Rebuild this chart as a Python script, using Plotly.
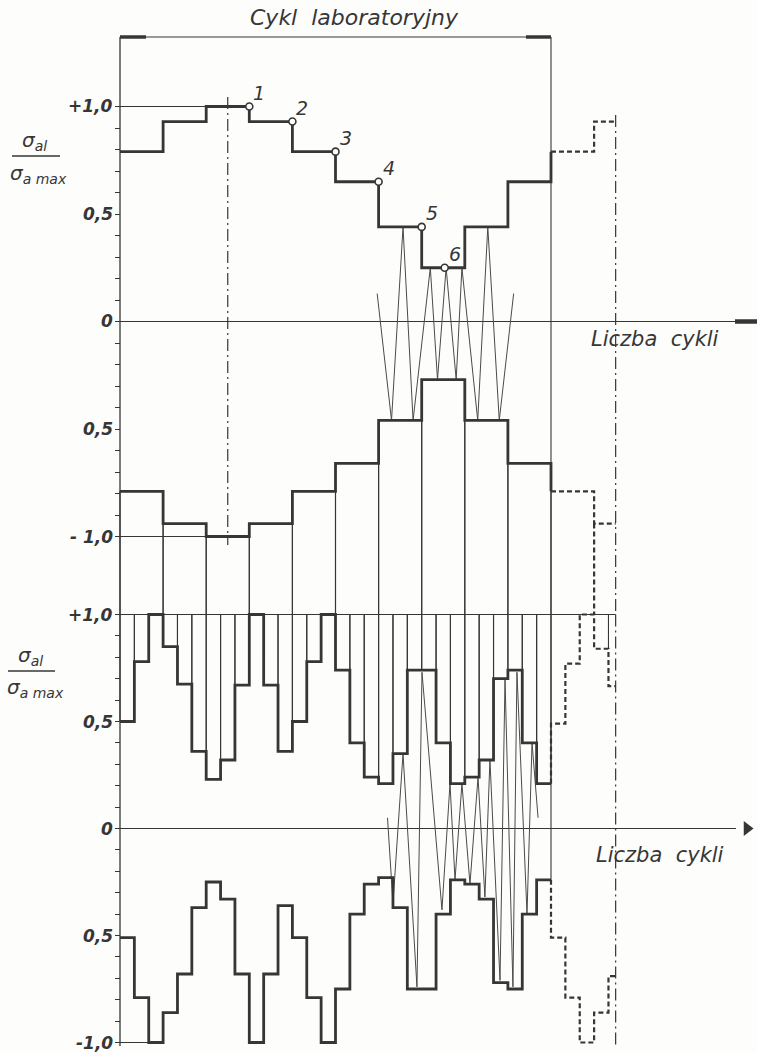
import plotly.graph_objects as go

# ---------------- data ----------------
# block program (upper diagram): amplitude ratio per block of the laboratory cycle
top_upper = [0.79, 0.93, 1.00, 0.93, 0.79, 0.65, 0.44, 0.25, 0.44, 0.65]
top_lower = [-0.79, -0.94, -1.00, -0.94, -0.79, -0.66, -0.46, -0.27, -0.46, -0.66]
top_upper_next = [0.79, 0.93]          # start of the following cycle (dashed)
top_lower_next = [-0.79, -0.94]

# numbered points on the upper envelope
point_labels = ["1", "2", "3", "4", "5", "6"]
point_x = [9.0, 12.0, 15.0, 18.0, 21.0, 22.6]
point_y = [1.00, 0.93, 0.79, 0.65, 0.44, 0.25]

# load reversals drawn inside blocks 7-9
zig_top_x = [17.9, 18.9, 19.7, 20.4, 21.6, 22.1, 22.7, 23.4, 23.8, 24.9, 25.6, 26.4, 27.4]
zig_top_y = [0.13, -0.46, 0.44, -0.46, 0.25, -0.27, 0.25, -0.27, 0.25, -0.46, 0.44, -0.46, 0.13]

# random block sequence (lower diagram): 30 sub-blocks per cycle
bot_upper = [0.50, 0.78, 1.00, 0.85, 0.675, 0.36, 0.23, 0.32, 0.67, 1.00,
             0.67, 0.36, 0.50, 0.78, 1.00, 0.74, 0.40, 0.24, 0.21, 0.35,
             0.74, 0.74, 0.40, 0.21, 0.24, 0.32, 0.70, 0.74, 0.40, 0.21]
bot_lower = [-0.51, -0.79, -1.00, -0.86, -0.68, -0.37, -0.25, -0.33, -0.68, -1.00,
             -0.68, -0.36, -0.51, -0.79, -1.00, -0.75, -0.40, -0.26, -0.23, -0.37,
             -0.75, -0.75, -0.40, -0.24, -0.26, -0.33, -0.72, -0.75, -0.40, -0.24]
bot_upper_next = [0.49, 0.77, 1.00, 0.84, 0.665]
bot_lower_next = [-0.51, -0.79, -1.00, -0.86, -0.69]

# load reversals drawn inside sub-blocks 19-30
zig_bot_x = [18.62, 19.0, 19.7, 20.67, 21.02, 22.41, 22.97, 23.32, 23.8, 24.36,
             24.92, 25.4, 25.75, 26.45, 26.8, 27.35, 27.63, 28.33, 28.68, 29.1]
zig_bot_y = [0.05, -0.35, 0.35, -0.74, 0.73, -0.38, 0.21, -0.24, 0.21, -0.26,
             0.24, -0.32, 0.32, -0.71, 0.70, -0.74, 0.73, -0.40, 0.40, 0.05]

top_tick_text = {1.0: "+1,0", 0.5: "0,5", 0.0: "0", -0.5: "0,5", -1.0: "- 1,0"}
bot_tick_text = {1.0: "+1,0", 0.5: "0,5", 0.0: "0", -0.5: "0,5", -1.0: "-1,0"}

# ---------------- geometry ----------------
W, H = 757, 1052
X0_PX = 120.0
UNIT_PX = 431.0 / 30.0
TOP_ZERO_PX, TOP_SCALE = 321.5, 215.0
BOT_ZERO_PX, BOT_SCALE = 828.5, 214.0

INK = "#363636"
THIN = 1.1
THICK = 2.8
FONT = "DejaVu Sans"


def px_to_top(p):
    return (TOP_ZERO_PX - p) / TOP_SCALE


def px_to_bot(p):
    return (BOT_ZERO_PX - p) / BOT_SCALE


def bot_to_top(v):
    return px_to_top(BOT_ZERO_PX - v * BOT_SCALE)


def px_to_x(p):
    return (p - X0_PX) / UNIT_PX


x_range = [px_to_x(0), px_to_x(W)]
y_range = [px_to_top(H), px_to_top(0)]
y2_range = [px_to_bot(H), px_to_bot(0)]

n_blocks = len(top_upper)
cycle_end = 3.0 * n_blocks
next_end = 34.5
base_top = bot_to_top(1.0)         # lower hanging edge of the upper-diagram blocks
bracket_v = px_to_top(37)

fig = go.Figure()


def seg(x, y, width=THIN, dash="solid", axis="y", shape="linear", color=INK):
    fig.add_trace(go.Scatter(x=x, y=y, mode="lines", yaxis=axis, hoverinfo="skip",
                             showlegend=False,
                             line=dict(color=color, width=width, dash=dash, shape=shape)))


# ---------- upper diagram ----------
edges_top = [3.0 * i for i in range(n_blocks + 1)]
centers_top = [3.0 * i + 1.5 for i in range(n_blocks)]
fig.add_trace(go.Bar(x=centers_top, y=[v - base_top for v in top_lower], base=base_top,
                     width=3.0, yaxis="y", marker=dict(color="rgba(0,0,0,0)",
                     line=dict(color=INK, width=THIN)), hoverinfo="skip", showlegend=False))

# reference lines at +/-1
seg([0, 9], [1.0, 1.0])
seg([0, 9], [-1.0, -1.0])
# zero line with arrow end
seg([0, px_to_x(736)], [0, 0], width=1.0)
seg([px_to_x(735), px_to_x(757)], [0, 0], width=4.5)
# laboratory cycle bracket
seg([0, cycle_end], [bracket_v, bracket_v])
seg([0, px_to_x(146)], [bracket_v, bracket_v], width=3.5)
seg([px_to_x(526), cycle_end], [bracket_v, bracket_v], width=3.5)
seg([cycle_end, cycle_end], [bracket_v, base_top])
# symmetry axes
seg([7.5, 7.5], [px_to_top(97), px_to_top(545)], width=1.2, dash="12px,4px,2px,4px")
seg([next_end, next_end], [px_to_top(115), base_top], width=1.2, dash="12px,4px,2px,4px")

# reversals
seg(zig_top_x, zig_top_y, width=1.0, color="#4a4a4a")

# envelopes
seg(edges_top, top_upper + [top_upper_next[0]], width=THICK, shape="hv")
seg(edges_top, top_lower + [top_lower_next[0]], width=THICK, shape="hv")
seg([cycle_end, 33.0, next_end], [top_upper_next[0], top_upper_next[1], top_upper_next[1]],
    width=2.2, dash="5px,3px", shape="hv")
seg([cycle_end, 33.0, next_end], [top_lower_next[0], top_lower_next[1], top_lower_next[1]],
    width=2.2, dash="5px,3px", shape="hv")
seg([33.0, 33.0], [top_lower_next[1], base_top], width=2.2, dash="5px,3px")

fig.add_trace(go.Scatter(x=point_x, y=point_y, mode="markers", yaxis="y",
                         hoverinfo="skip", showlegend=False,
                         marker=dict(symbol="circle", size=7, color="white",
                                     line=dict(color=INK, width=1.6))))

# ---------- lower diagram ----------
n_sub = len(bot_upper)
edges_bot = [float(i) for i in range(n_sub + 1)]
centers_bot = [i + 0.5 for i in range(n_sub)]
fig.add_trace(go.Bar(x=centers_bot, y=[v - 1.0 for v in bot_upper], base=1.0, width=1.0,
                     yaxis="y2", marker=dict(color="rgba(0,0,0,0)",
                     line=dict(color=INK, width=THIN)), hoverinfo="skip", showlegend=False))

seg([cycle_end, next_end], [1.0, 1.0], axis="y2")
seg([0, 3], [-1.0, -1.0], axis="y2")
seg([0, px_to_x(736)], [0, 0], width=1.0, axis="y2")
fig.add_trace(go.Scatter(x=[px_to_x(747)], y=[0], mode="markers", yaxis="y2",
                         hoverinfo="skip", showlegend=False,
                         marker=dict(symbol="triangle-right", size=13, color=INK)))
seg([cycle_end, cycle_end], [1.0, bot_lower[-1]], axis="y2")
seg([34.0, 34.0], [1.0, bot_upper_next[3]], axis="y2")
seg([next_end, next_end], [1.0, px_to_bot(1045)], width=1.2, dash="12px,4px,2px,4px",
    axis="y2")

seg(zig_bot_x, zig_bot_y, width=1.0, color="#4a4a4a", axis="y2")

seg(edges_bot, bot_upper + [bot_upper[-1]], width=THICK, shape="hv", axis="y2")
seg(edges_bot, bot_lower + [bot_lower[-1]], width=THICK, shape="hv", axis="y2")
nx = [cycle_end, cycle_end, 31.0, 32.0, 33.0, 34.0, next_end]
seg(nx, [bot_upper[-1]] + bot_upper_next + [bot_upper_next[-1]], width=2.2,
    dash="5px,3px", shape="hv", axis="y2")
seg(nx, [bot_lower[-1]] + bot_lower_next + [bot_lower_next[-1]], width=2.2,
    dash="5px,3px", shape="hv", axis="y2")

# ordinate lines
seg([0, 0], [bracket_v, base_top], width=1.3)
seg([0, 0], [1.0, px_to_bot(1046)], width=1.3, axis="y2")

# ---------- axes ----------
ticks = [round(-1.0 + 0.1 * i, 1) for i in range(21)]


def yaxis_cfg(rng):
    return dict(range=rng, tickvals=ticks, showticklabels=False,
                ticks="outside", ticklen=5, tickwidth=1, tickcolor=INK,
                showgrid=False, zeroline=False, showline=False,
                anchor="free", position=X0_PX / W, fixedrange=True)


y2cfg = yaxis_cfg(y2_range)
y2cfg["overlaying"] = "y"

annotations = []


def text(t, xp, yp, size=18, xanchor="center", weight="normal"):
    annotations.append(dict(text=t, x=xp / W, y=1 - yp / H, xref="paper", yref="paper",
                            showarrow=False, xanchor=xanchor, yanchor="middle",
                            font=dict(family=FONT, size=size, color=INK, style="italic",
                                      weight=weight)))


# value labels of both ordinates, placed at their axis values
for v, t in top_tick_text.items():
    text(t, 115, TOP_ZERO_PX - v * TOP_SCALE, size=17, xanchor="right", weight="bold")
for v, t in bot_tick_text.items():
    text(t, 115, BOT_ZERO_PX - v * BOT_SCALE, size=17, xanchor="right", weight="bold")

# numbers of the marked envelope points
for lbl, px_, py_ in zip(point_labels, point_x, point_y):
    annotations.append(dict(text=lbl, x=px_, y=py_, xref="x", yref="y",
                            showarrow=False, xanchor="left", yanchor="bottom",
                            xshift=2, yshift=1,
                            font=dict(family=FONT, size=19, color=INK, style="italic")))

text("Cykl  laboratoryjny", 354, 17, size=22)
text("Liczba  cykli", 655, 339, size=21)
text("Liczba  cykli", 660, 855, size=21)
text("σ<sub>al</sub>", 34, 141, size=20)
text("σ<sub>a max</sub>", 38, 174, size=20)
text("σ<sub>al</sub>", 30, 656, size=20)
text("σ<sub>a max</sub>", 35, 688, size=20)

shapes = [
    dict(type="line", xref="paper", yref="paper", x0=12 / W, x1=60 / W,
         y0=1 - 156 / H, y1=1 - 156 / H, line=dict(color=INK, width=1.3)),
    dict(type="line", xref="paper", yref="paper", x0=8 / W, x1=55 / W,
         y0=1 - 671 / H, y1=1 - 671 / H, line=dict(color=INK, width=1.3)),
]

fig.update_layout(
    width=W, height=H, autosize=False,
    margin=dict(l=0, r=0, t=0, b=0),
    paper_bgcolor="#fdfdfc", plot_bgcolor="#fdfdfc",
    barmode="overlay",
    xaxis=dict(range=x_range, visible=False, fixedrange=True),
    yaxis=yaxis_cfg(y_range), yaxis2=y2cfg,
    annotations=annotations, shapes=shapes,
    showlegend=False,
)

fig.write_html("out.html")
